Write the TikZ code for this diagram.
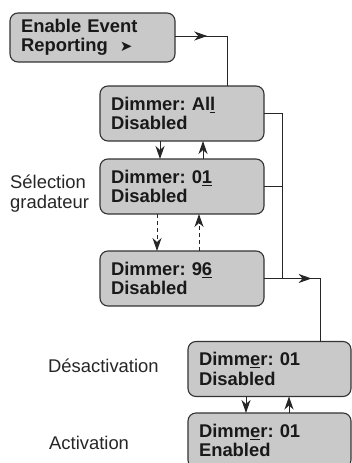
\documentclass[tikz,border=0pt]{standalone}
\usepackage{fontspec}
\setmainfont{Liberation Sans}
\newfontfamily\symfont{DejaVu Sans}
\usetikzlibrary{arrows.meta, calc}
\frenchspacing

\begin{document}
\begin{tikzpicture}[
        x=1pt, y=-1pt,
        >={Stealth[length=13pt, width=9pt, inset=4pt]},
        font=\fontsize{18.4}{20}\selectfont,
        menu/.style={draw=black!80, line width=1.1pt, fill=black!21, rounded corners=8pt, align=left,
            text=black!90, font=\bfseries\fontsize{18.4}{19.5}\selectfont,
            inner xsep=11pt, inner ysep=0pt, outer sep=0pt, text width=142pt, minimum height=55pt},
        link/.style={line width=1pt, draw=black!85},
        lbl/.style={align=left, anchor=west, text=black!85, inner sep=0pt}
    ]
        \useasboundingbox (0,0) rectangle (352,463);
        \clip (0,0) rectangle (352,463);
        % menu screens
        \node[menu, text width=143pt, minimum height=49pt] (report) at (92.5,37.5) {Enable Event\\Reporting\hspace{12pt}{\symfont\fontsize{15}{15}\selectfont ➤}};
        \node[menu] (all) at (182,113.5) {Dimmer: Al\underline{l}\\Disabled};
        \node[menu] (dim01) at (182,186.5) {Dimmer: 0\underline{1}\\Disabled};
        \node[menu] (dim96) at (182,278.5) {Dimmer: 9\underline{6}\\Disabled};
        \node[menu, text width=141pt] (off) at (269.5,369) {Dimm\underline{e}r: 01\\Disabled};
        \node[menu, text width=141pt] (on) at (269.5,440.5) {Dimm\underline{e}r: 01\\Enabled};
        % side texts
        \node[lbl] (sel) at (10,194) {Sélection\\gradateur};
        \node[lbl] (desact) at (48,366) {Désactivation};
        \node[lbl] (act) at (49,443) {Activation};
        % entry line
        \coordinate (j1) at (227,36);
        \draw[link] (report.east |- j1) -- (j1) -- (j1 |- all.north);
        \draw[link, ->] (report.east |- j1) -- ($(report.east |- j1)!0.62!(j1)$);
        % right bus
        \coordinate (bus) at (282,0);
        \coordinate (j2) at (320,278.5);
        \draw[link] (all.east) -- (all.east -| bus) -- (dim96.east -| bus);
        \draw[link] (dim01.east) -- (dim01.east -| bus);
        \draw[link] (dim96.east) -- (j2) -- (j2 |- off.north);
        \draw[link, ->] (dim96.east) -- ($(dim96.east)!0.85!(j2)$);
        % up and down keys
        \draw[link, ->] ([xshift=-22pt]all.south) -- ([xshift=-22pt]dim01.north);
        \draw[link, ->] ([xshift=21pt]dim01.north) -- ([xshift=21pt]all.south);
        \draw[link, ->, dash pattern=on 4pt off 3pt] ([xshift=-25pt]dim01.south) -- ([xshift=-25pt]dim96.north);
        \draw[link, ->, dash pattern=on 4pt off 3pt] ([xshift=17pt]dim96.north) -- ([xshift=17pt]dim01.south);
        \draw[link, ->] ([xshift=-23.5pt]off.south) -- ([xshift=-23.5pt]on.north);
        \draw[link, ->] ([xshift=19.5pt]on.north) -- ([xshift=19.5pt]off.south);
    \end{tikzpicture}
\end{document}
